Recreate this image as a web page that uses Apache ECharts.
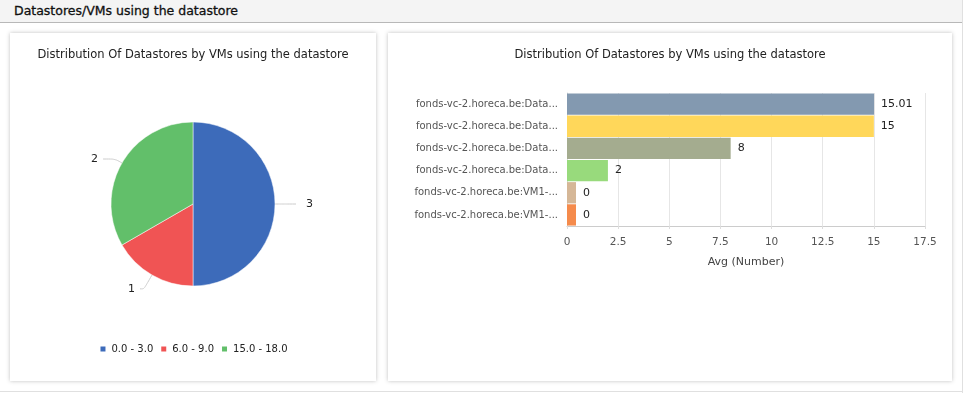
<!DOCTYPE html>
<html><head><meta charset="utf-8">
<script src="https://cdn.jsdelivr.net/npm/echarts@6/dist/echarts.min.js"></script>
<style>
html,body{margin:0;padding:0;width:967px;height:393px;background:#fff;overflow:hidden;font-family:"DejaVu Sans",Verdana,sans-serif;}
#hdr{position:absolute;left:0;top:0;width:962px;height:22px;background:#f4f4f4;border-bottom:1px solid #b8b8b8;}
#hdr span{position:absolute;left:14px;top:3px;font-size:12.5px;color:#111;font-weight:normal;-webkit-text-stroke:0.3px #111;}
#rline{position:absolute;left:962px;top:0;width:1px;height:393px;background:#e0e0e0;}
#bline{position:absolute;left:0;top:391px;width:962px;height:1px;background:#e0e0e0;}
.panel{position:absolute;background:#fff;box-shadow:0 0 4px rgba(0,0,0,0.25);}
#p1{left:10px;top:33px;width:366px;height:348px;}
#p2{left:388px;top:33px;width:564px;height:348px;}
</style></head>
<body>
<div id="hdr"><span>Datastores/VMs using the datastore</span></div>
<div id="rline"></div><div id="bline"></div>
<div class="panel" id="p1"></div>
<div class="panel" id="p2"></div>
<script>
var chartTitle = "Distribution Of Datastores by VMs using the datastore";
var pieCategories = ["0.0 - 3.0", "6.0 - 9.0", "15.0 - 18.0"];
var pieValues = [3, 1, 2];
var pieColors = ["#3d6bba", "#f05454", "#62bf6a"];

var barCategories = [
  "fonds-vc-2.horeca.be:Data...",
  "fonds-vc-2.horeca.be:Data...",
  "fonds-vc-2.horeca.be:Data...",
  "fonds-vc-2.horeca.be:Data...",
  "fonds-vc-2.horeca.be:VM1-...",
  "fonds-vc-2.horeca.be:VM1-..."
];
var barValues = [15.01, 15, 8, 2, 0, 0];
var barColors = ["#8399b0", "#ffd75a", "#a4ac8f", "#98da7c", "#d5b797", "#f58b4c"];
var xTicks = [0, 2.5, 5, 7.5, 10, 12.5, 15, 17.5];

var FONT = "DejaVu Sans";
var titleStyle = {fontSize: 11.5, fontWeight: "normal", color: "#222", fontFamily: FONT};

// per-slice label line styling (layout only)
var sliceLabelStyle = [
  {line: {length: 8, length2: 13}, gap: 10},
  {line: {length: 16, length2: 4}, gap: 5},
  {line: {length: 8, length2: 12}, gap: 5}
];

var c1 = echarts.init(document.getElementById("p1"));
c1.setOption({
  animation: false,
  title: {text: chartTitle, left: "center", top: 11, textStyle: titleStyle},
  color: pieColors,
  legend: {
    bottom: 22, left: "center", icon: "rect", itemWidth: 7, itemHeight: 7, itemGap: 6,
    textStyle: {fontSize: 10, color: "#222", fontFamily: FONT},
    data: pieCategories
  },
  series: [{
    type: "pie", center: [183, 171], radius: [0, 82], startAngle: 90, clockwise: true,
    data: pieCategories.map(function(c, i){
      return {name: c, value: pieValues[i],
        labelLine: sliceLabelStyle[i].line,
        label: {distanceToLabelLine: sliceLabelStyle[i].gap}};
    }),
    label: {show: true, formatter: "{c}", fontSize: 11, color: "#222", fontFamily: FONT},
    labelLine: {show: true, smooth: true, lineStyle: {color: "#ccc", width: 1}},
    itemStyle: {borderColor: "#fff", borderWidth: 0.5}
  }]
});

var c2 = echarts.init(document.getElementById("p2"));
c2.setOption({
  animation: false,
  title: {text: chartTitle, left: "center", top: 11, textStyle: titleStyle},
  grid: {left: 179, right: 27, top: 60, bottom: 155},
  xAxis: {
    type: "value", min: 0, max: 17.5, interval: 2.5,
    name: "Avg (Number)", nameLocation: "middle", nameGap: 31,
    nameTextStyle: {fontSize: 11, color: "#444", fontFamily: FONT},
    axisLine: {show: true, lineStyle: {color: "#ccc"}},
    axisTick: {show: true, length: 3, lineStyle: {color: "#ddd"}},
    axisLabel: {fontSize: 10.5, color: "#555", fontFamily: FONT, margin: 11,
      formatter: function(v){ return xTicks.indexOf(v) >= 0 ? String(v) : ""; }},
    splitLine: {show: true, lineStyle: {color: "#e6e6e6"}}
  },
  yAxis: {
    type: "category", inverse: true, data: barCategories,
    axisLine: {show: true, lineStyle: {color: "#ddd"}},
    axisTick: {show: false},
    axisLabel: {fontSize: 10, color: "#555", fontFamily: FONT, margin: 9}
  },
  series: [{
    type: "bar", barCategoryGap: "4%", barMinHeight: 9,
    data: barValues.map(function(v, i){ return {value: v, itemStyle: {color: barColors[i]}}; }),
    label: {show: true, position: "right", distance: 7, fontSize: 11, color: "#222", fontFamily: FONT},
    itemStyle: {borderColor: "#fff", borderWidth: 0}
  }]
});
</script>
</body></html>
